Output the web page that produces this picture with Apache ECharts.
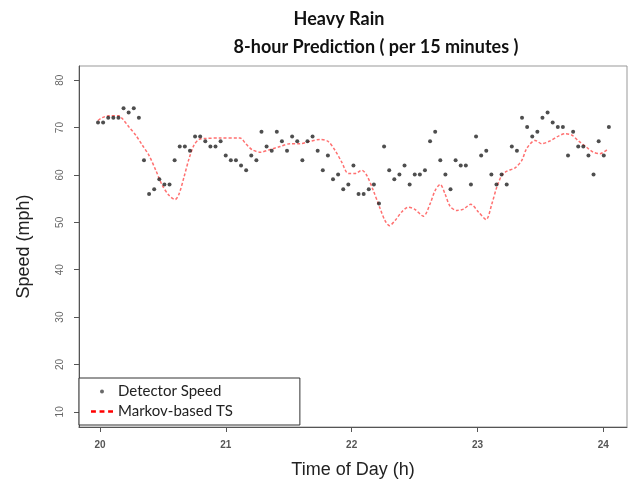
<!DOCTYPE html>
<html>
<head>
<meta charset="utf-8">
<script src="https://cdn.jsdelivr.net/npm/echarts@6/dist/echarts.min.js"></script>
<style>
  html, body { margin: 0; padding: 0; background: #fff; }
  #chart { width: 631px; height: 486px; }
</style>
</head>
<body>
<div id="chart"></div>
<script>
// detector speed, one reading every ~2.4 min starting just before 20:00
const detectorSpeed = [
  71.1, 71.1, 72.1, 72.1, 72.1, 74.1, 73.2, 74.1, 72.1, 63.1,
  56.0, 57.0, 59.1, 58.0, 58.0, 63.1, 66.0, 66.0, 65.1, 68.1,
  68.1, 67.1, 66.0, 66.0, 67.1, 64.1, 63.1, 63.1, 62.0, 61.0,
  64.1, 63.1, 69.1, 66.0, 65.1, 69.1, 67.1, 65.1, 68.1, 67.1,
  63.1, 67.1, 68.1, 65.1, 61.0, 64.1, 59.1, 60.1, 57.0, 58.0,
  62.0, 56.0, 56.0, 57.0, 58.0, 54.0, 66.0, 61.0, 59.1, 60.1,
  62.0, 58.0, 60.1, 60.1, 61.0, 67.1, 69.1, 63.1, 60.1, 57.0,
  63.1, 62.0, 62.0, 58.0, 68.1, 64.1, 65.1, 60.1, 58.0, 60.1,
  58.0, 66.0, 65.1, 72.1, 70.1, 68.1, 69.1, 72.1, 73.2, 71.1,
  70.1, 70.1, 64.1, 69.1, 66.0, 66.0, 64.1, 60.1, 67.1, 64.1,
  70.1
];
const startHour = 19.984;
const stepHour = 0.0406;

// Markov-based TS prediction curve
const predHours = [
  19.984, 20.018, 20.072, 20.151, 20.177, 20.231, 20.284, 20.336, 20.390, 20.443,
  20.495, 20.548, 20.596, 20.628, 20.668, 20.707, 20.747, 20.787, 20.840, 20.954,
  21.113, 21.131, 21.158, 21.211, 21.277, 21.343, 21.431, 21.510, 21.590, 21.669,
  21.749, 21.812, 21.868, 21.921, 21.974, 22.027, 22.080, 22.120, 22.172, 22.226,
  22.266, 22.300, 22.345, 22.398, 22.451, 22.504, 22.570, 22.623, 22.663, 22.703,
  22.742, 22.782, 22.835, 22.888, 22.947, 23.007, 23.068, 23.114, 23.153, 23.193,
  23.233, 23.299, 23.352, 23.391, 23.458, 23.511, 23.577, 23.643, 23.696, 23.750,
  23.802, 23.869, 23.921, 23.974, 24.028
];
const predSpeed = [
  71.5, 72.1, 72.5, 72.5, 71.9, 70.1, 68.4, 66.3, 64.1, 61.0,
  57.8, 55.7, 54.8, 56.0, 59.6, 63.4, 66.3, 67.5, 67.7, 67.8,
  67.8, 67.5, 66.6, 65.3, 64.8, 65.3, 66.0, 66.6, 66.6, 67.1,
  67.5, 67.1, 65.2, 62.7, 60.3, 60.3, 61.0, 59.9, 56.7, 52.9,
  50.3, 49.3, 50.4, 52.2, 53.2, 52.7, 51.3, 53.9, 56.7, 58.0,
  56.0, 53.4, 52.5, 52.8, 53.8, 52.2, 50.6, 53.9, 57.4, 59.9,
  60.8, 61.5, 63.1, 65.6, 67.3, 66.6, 67.2, 68.2, 68.7, 68.4,
  67.2, 65.8, 64.8, 64.5, 65.3
];

const xTicks = [20, 21, 22, 23, 24];
const yTicks = [10, 20, 30, 40, 50, 60, 70, 80];

const chart = echarts.init(document.getElementById("chart"));

const titleFont = {
  fontFamily: "Lato",
  fontWeight: "bold",
  fontSize: 18,
  color: "#111",
};

const option = {
  backgroundColor: "#fff",
  animation: false,
  title: [
    { text: "Heavy Rain", left: 334, top: 5, textAlign: "center", textStyle: titleFont },
    { text: "8-hour Prediction ( per 15 minutes )", left: 371, top: 33, textAlign: "center", textStyle: titleFont },
  ],
  legend: {
    orient: "vertical",
    left: 79,
    top: 378,
    padding: [6, 67, 6, 12],
    itemGap: 5,
    itemWidth: 22,
    itemHeight: 4,
    symbolKeepAspect: true,
    backgroundColor: "#fff",
    borderColor: "#333",
    borderWidth: 1,
    borderRadius: 0,
    textStyle: {
      fontFamily: "Lato",
      fontSize: 15,
      color: "#222",
    },
    data: [
      { name: "Detector Speed", icon: "circle", itemStyle: { color: "#444" } },
      {
        name: "Markov-based TS",
        icon: "path://M0,0 L4,0 L4,2 L0,2 Z M7,0 L11,0 L11,2 L7,2 Z M14,0 L18,0 L18,2 L14,2 Z",
        itemStyle: { color: "#f00" },
      },
    ],
  },
  grid: {
    left: 79,
    right: 4,
    top: 66,
    bottom: 59,
    show: true,
    borderColor: "#999",
    borderWidth: 1,
  },
  xAxis: {
    type: "value",
    min: 19.833,
    max: 24.188,
    name: "Time of Day (h)",
    nameLocation: "middle",
    nameGap: 34,
    nameTextStyle: { fontFamily: "Liberation Sans", fontSize: 18, color: "#222" },
    axisLine: { show: true, onZero: false, lineStyle: { color: "#555" } },
    axisTick: { show: true, length: 5, customValues: xTicks, lineStyle: { color: "#555" } },
    axisLabel: {
      customValues: xTicks,
      margin: 13,
      fontFamily: "Liberation Sans",
      fontWeight: "bold",
      fontSize: 10,
      color: "#555",
    },
    splitLine: { show: false },
  },
  yAxis: {
    type: "value",
    min: 6.8,
    max: 83.0,
    name: "Speed (mph)",
    nameLocation: "middle",
    nameGap: 46,
    nameTextStyle: { fontFamily: "Liberation Sans", fontSize: 18, color: "#222" },
    axisLine: { show: true, onZero: false, lineStyle: { color: "#555" } },
    axisTick: { show: true, length: 5, customValues: yTicks, lineStyle: { color: "#555" } },
    axisLabel: {
      customValues: yTicks,
      rotate: 90,
      margin: 14,
      fontFamily: "Liberation Sans",
      fontSize: 10,
      color: "#666",
    },
    splitLine: { show: false },
  },
  series: [
    {
      name: "Markov-based TS",
      type: "line",
      data: predHours.map((h, i) => [h, predSpeed[i]]),
      symbol: "none",
      smooth: 0.3,
      lineStyle: { color: "#ff7070", width: 1.5, type: [3, 2] },
      itemStyle: { color: "#f00" },
      z: 2,
    },
    {
      name: "Detector Speed",
      type: "scatter",
      data: detectorSpeed.map((v, i) => [startHour + i * stepHour, v]),
      symbol: "circle",
      symbolSize: 4,
      itemStyle: { color: "#222" },
      z: 3,
    },
  ],
};

chart.setOption(option);
</script>
</body>
</html>
